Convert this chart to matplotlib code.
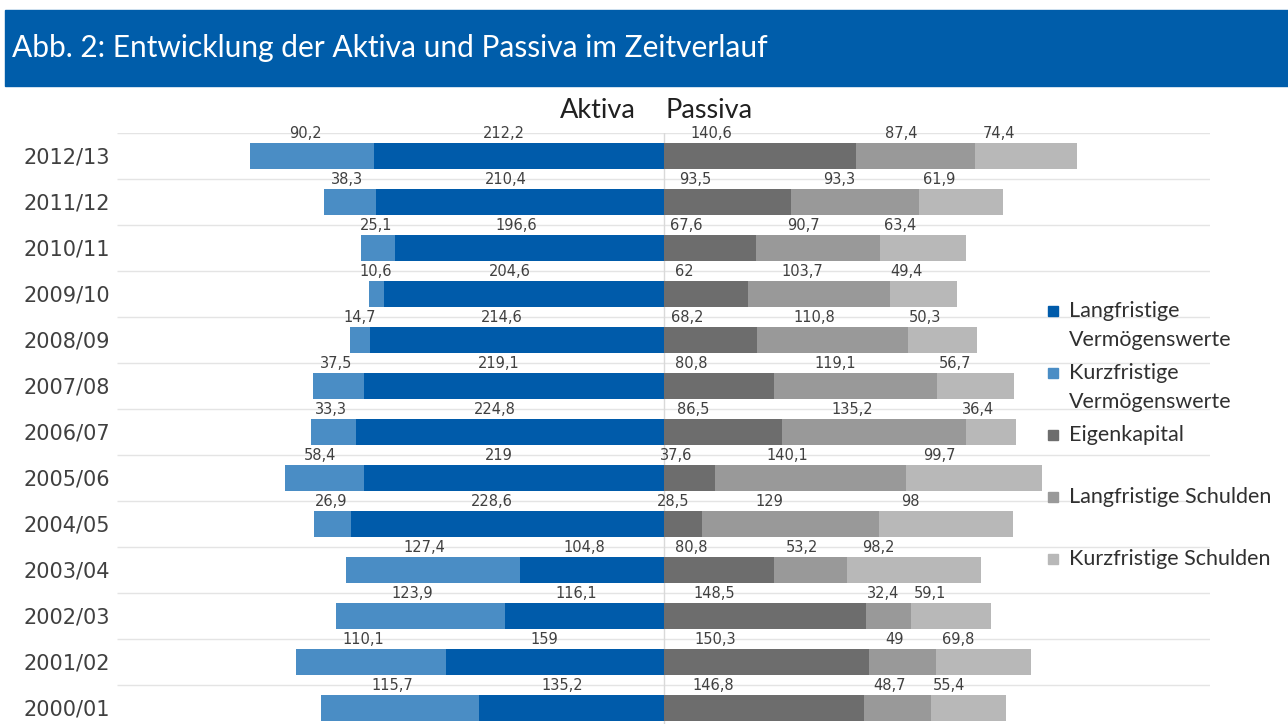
import numpy as np
import matplotlib
matplotlib.use("Agg")
from matplotlib import pyplot as plt
from matplotlib.patches import Rectangle

# data, top row of the picture is the last entry
years = ["2000/01", "2001/02", "2002/03", "2003/04", "2004/05", "2005/06", "2006/07",
         "2007/08", "2008/09", "2009/10", "2010/11", "2011/12", "2012/13"]
langfr_verm = [135.2, 159, 116.1, 104.8, 228.6, 219, 224.8, 219.1, 214.6, 204.6, 196.6, 210.4, 212.2]
kurzfr_verm = [115.7, 110.1, 123.9, 127.4, 26.9, 58.4, 33.3, 37.5, 14.7, 10.6, 25.1, 38.3, 90.2]
eigenkapital = [146.8, 150.3, 148.5, 80.8, 28.5, 37.6, 86.5, 80.8, 68.2, 62, 67.6, 93.5, 140.6]
langfr_schulden = [48.7, 49, 32.4, 53.2, 129, 140.1, 135.2, 119.1, 110.8, 103.7, 90.7, 93.3, 87.4]
kurzfr_schulden = [55.4, 69.8, 59.1, 98.2, 98, 99.7, 36.4, 56.7, 50.3, 49.4, 63.4, 61.9, 74.4]

legend_labels = ["Langfristige\nVermögenswerte", "Kurzfristige\nVermögenswerte", "Eigenkapital",
                 "Langfristige Schulden", "Kurzfristige Schulden"]
colors = ["#005BAA", "#4A8DC5", "#6D6D6D", "#999999", "#B8B8B8"]

W, H = 1288, 724
fig = plt.figure(figsize=(W / 100, H / 100), dpi=100)

# title banner
fig.patches.append(Rectangle((5 / W, 1 - 86 / H), 1, 76 / H, transform=fig.transFigure,
                             color="#005DAA", zorder=0))
fig.text(12 / W, 1 - 48 / H, "Abb. 2: Entwicklung der Aktiva und Passiva im Zeitverlauf",
         color="white", fontsize=21.5, family="Lato", va="center", ha="left")

ax = fig.add_axes([117 / W, 0, (1210 - 117) / W, 1 - 133 / H])

y = np.arange(len(years))
lv = np.array(langfr_verm)
kv = np.array(kurzfr_verm)
ek = np.array(eigenkapital)
ls = np.array(langfr_schulden)
ks = np.array(kurzfr_schulden)

bh = 0.565
segments = [
    (-lv, lv, colors[0], 0.45),
    (-(lv + kv), kv, colors[1], 0.45),
    (np.zeros_like(ek), ek, colors[2], 0.25),
    (ek, ls, colors[3], 0.38),
    (ek + ls, ks, colors[4], 0.24),
]

for left, width, col, frac in segments:
    ax.barh(y, width, left=left, height=bh, color=col, zorder=2)
    for yi, l, w in zip(y, left, width):
        txt = f"{w:g}".replace(".", ",")
        ax.text(l + frac * w, yi + 0.48, txt, ha="center", va="center",
                fontsize=10.5, color="#404040", zorder=3)

ax.hlines(np.arange(0.5, len(years), 1), -400, 400, color="#E4E4E4", lw=1, zorder=0)
ax.axvline(0, color="#D9D9D9", lw=1, zorder=1)

ax.set_xlim(-400, 400)
ax.set_ylim(-0.35, len(years) - 0.5)
ax.set_yticks(y)
ax.set_yticklabels(years, fontsize=15, color="#404040")
ax.tick_params(axis="y", length=0, pad=5)
ax.set_xticks([])
for s in ax.spines.values():
    s.set_visible(False)

fig.text(636 / W, 1 - 110 / H, "Aktiva", ha="right", va="center", fontsize=19.5,
         family="Lato", color="#202020")
fig.text(666 / W, 1 - 110 / H, "Passiva", ha="left", va="center", fontsize=19.5,
         family="Lato", color="#202020")

# legend
leg_y = [311, 373, 435, 497, 559]
for lab, ly, col in zip(legend_labels, leg_y, colors):
    fig.patches.append(Rectangle((1048 / W, 1 - (ly + 5) / H), 10 / W, 10 / H,
                                 transform=fig.transFigure, color=col))
    for k, line in enumerate(lab.split("\n")):
        fig.text(1069 / W, 1 - (ly + 29 * k) / H, line, ha="left", va="center",
                 fontsize=15.5, family="Lato", color="#303030")

fig.savefig("out.png", dpi=100)
